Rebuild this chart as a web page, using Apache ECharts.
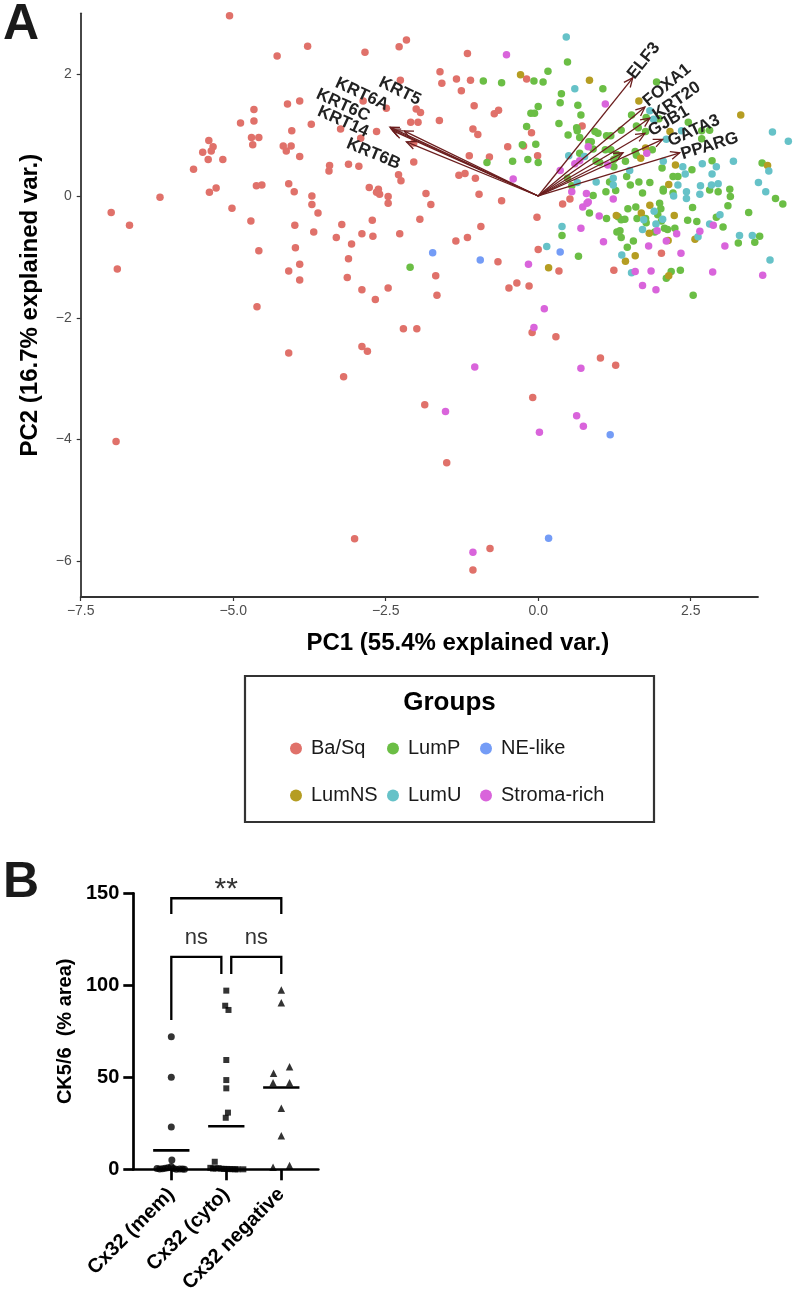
<!DOCTYPE html>
<html>
<head>
<meta charset="utf-8">
<script src="https://cdn.jsdelivr.net/npm/echarts@6/dist/echarts.min.js"></script>
<style>
html, body { margin: 0; padding: 0; background: #fff; }
#chart { width: 795px; height: 1298px; }
</style>
</head>
<body>
<div id="chart"></div>
<script>
// ---- panel A : PCA biplot ----
const groups = ['Ba/Sq', 'LumP', 'NE-like', 'LumNS', 'LumU', 'Stroma-rich'];
const groupColors = ['#E0716A', '#6BBE45', '#749CF6', '#B59D22', '#66C2C8', '#D964DB'];

const baSq = [[-5.06,2.96],[-4.28,2.30],[-4.11,1.51],[-3.91,1.56],[-4.88,1.20],[-4.66,1.42],[-4.66,1.23],[-4.04,1.07],[-4.70,0.96],[-4.58,0.96],
  [-4.68,0.84],[-5.40,0.91],[-5.33,0.81],[-5.36,0.74],[-5.50,0.72],[-5.41,0.60],[-5.17,0.60],[-5.65,0.44],[-4.18,0.82],[-4.05,0.82],
  [-4.13,0.74],[-3.91,0.65],[-4.62,0.17],[-4.53,0.18],[-4.09,0.20],[-4.00,0.07],[-5.39,0.06],[-5.28,0.13],[-6.20,-0.02],
  [-7.00,-0.27],[-6.70,-0.48],[-6.90,-1.20],[-5.02,-0.20],[-4.71,-0.41],[-4.58,-0.90],[-4.61,-1.82],[-3.99,-0.48],[-3.98,-0.85],[-4.09,-1.23],
  [-3.91,-1.12],[-3.91,-1.38],[-4.09,-2.58],[-6.92,-4.03],
  [-3.78,2.46],[-2.84,2.36],[-2.28,2.45],[-2.16,2.56],[-1.16,2.34],[-0.19,1.92],[-1.61,2.04],[-1.58,1.85],[-1.34,1.92],[-1.11,1.90],
  [-1.26,1.73],[-2.26,1.90],[-2.87,1.56],[-2.49,1.44],[-2.00,1.43],[-1.93,1.37],[-1.97,1.21],[-2.09,1.21],[-1.05,1.48],[-0.72,1.35],
  [-0.65,1.41],[-1.62,1.24],[-1.07,1.10],[-0.99,1.01],[-2.65,1.06],[-2.91,0.95],[-3.24,1.10],[-3.72,1.18],[-2.04,0.87],[-2.04,0.56],
  [-1.13,0.66],[-0.80,0.64],[-0.50,0.81],[-0.24,0.82],[-0.11,1.04],[-0.01,0.66],[-3.11,0.52],[-2.94,0.49],[-3.42,0.50],[-3.43,0.41],
  [-2.29,0.35],[-2.25,0.25],[-1.30,0.34],[-1.20,0.37],[-1.03,0.29],[-3.71,0.00],[-2.77,0.14],[-2.62,0.11],[-2.60,0.03],[-2.65,0.06],
  [-2.46,-0.01],[-1.84,0.04],[-0.97,0.03],
  [-3.71,-0.14],[-3.61,-0.28],[-3.68,-0.59],[-3.22,-0.47],[-3.31,-0.68],[-3.06,-0.79],[-3.11,-1.03],[-3.13,-1.34],[-2.72,-0.40],[-2.89,-0.62],
  [-2.71,-0.66],[-2.89,-1.54],[-2.67,-1.70],[-2.46,-1.51],[-2.46,-0.12],[-2.27,-0.62],[-1.94,-0.38],[-1.76,-0.14],[-1.68,-1.31],[-1.66,-1.63],
  [-2.21,-2.18],[-1.99,-2.18],[-2.89,-2.47],[-2.80,-2.55],[-3.19,-2.97],[-0.60,-0.08],[-0.94,-0.50],[-1.35,-0.74],[-1.16,-0.68],[-0.66,-1.08],
  [-0.02,-0.35],[0.00,-0.88],[-0.48,-1.51],[-0.35,-1.43],[-0.15,-1.48],[-0.10,-2.24],
  [-1.86,-3.43],[-1.50,-4.38],[-0.09,-3.31],[-3.01,-5.63],[-0.79,-5.79],[-1.07,-6.14],
  [0.29,-2.31],[1.02,-2.66],[1.27,-2.78],[1.24,-1.22],[0.34,-1.23],[2.02,-0.94],[0.52,-0.05],[0.40,-0.13],[0.72,1.15]];

const lumP = [[-0.07,1.89],[-0.90,1.89],[-0.60,1.86],[-0.19,1.14],[-0.12,1.36],[-0.06,1.36],[0.00,1.47],[-0.26,0.84],[-0.04,0.85],[-0.17,0.60],
  [-0.42,0.57],[-0.84,0.55],[0.00,0.55],[-2.10,-1.17],
  [2.54,-1.63],[3.28,-0.77],[3.55,-0.76],[3.63,-0.66],[3.45,-0.27],[3.89,-0.04],[4.01,-0.13],[2.18,-1.24],[2.10,-1.35],[2.33,-1.22],
  [0.66,-0.99],[1.46,-0.84],[1.56,-0.74],[2.45,-0.40],[2.60,-0.42],[2.92,-0.35],[3.03,-0.51],[3.11,-0.16],[3.15,-0.01],[2.95,0.07],
  [2.53,-0.19],[2.24,-0.53],[2.07,-0.53],[2.12,-0.55],[2.05,0.08],[1.99,-0.12],[2.01,-0.21],[1.96,-0.31],[2.02,-0.41],[1.91,-0.59],
  [1.60,-0.18],[1.47,-0.21],[1.62,-0.37],[1.76,-0.37],[1.77,-0.44],[1.31,-0.34],[1.36,-0.39],[1.42,-0.38],[1.29,-0.59],[1.34,-0.57],
  [1.36,-0.68],[1.12,-0.37],[1.11,0.07],[1.27,0.09],[0.84,-0.28],[0.90,0.01],[1.71,0.05],[0.39,-0.65],
  [0.48,2.20],[0.16,2.05],[0.08,1.87],[1.06,1.76],[0.38,1.68],[0.36,1.53],[0.70,1.33],[0.65,1.49],[0.63,1.12],[0.64,1.07],
  [0.49,1.00],[0.34,1.19],[0.68,0.96],[0.68,0.70],[0.83,0.89],[0.87,0.89],[0.90,0.77],[0.93,1.06],[0.98,1.03],[1.12,0.99],
  [1.19,0.99],[1.36,1.08],[1.53,1.33],[1.61,1.15],[1.64,1.12],[1.77,1.29],[1.94,1.87],[1.98,1.27],[1.76,1.06],[2.46,1.21],
  [2.68,1.07],[2.68,0.94],[2.81,1.08],[1.19,0.76],[1.10,0.76],[1.29,0.68],[1.24,0.60],[1.24,0.48],[0.95,0.57],[1.01,0.55],
  [1.43,0.57],[1.59,0.73],[1.61,0.67],[1.87,0.76],[2.03,0.46],[2.21,0.32],[2.29,0.32],[2.52,0.43],[2.85,0.58],[3.67,0.54],
  [3.14,0.11],[2.81,0.10],[2.21,0.05],[2.05,0.11],[1.83,0.22],[1.65,0.23],[1.51,0.18],[1.45,0.32],[1.17,0.23],[0.48,0.29],[0.55,0.17]];

const neLike = [[-1.73,-0.93],[-0.95,-1.05],[1.18,-3.92],[0.17,-5.62],[0.36,-0.92]];

const lumNS = [[-0.29,1.99],[0.84,1.90],[1.65,1.56],[2.16,1.06],[3.32,1.33],[1.76,0.79],[1.68,0.62],[2.25,0.51],[3.76,0.50],[2.14,0.19],
  [2.14,-1.31],[0.17,-1.18],[1.43,-1.07],[1.59,-0.98],[2.13,-0.73],[2.57,-0.71],[2.23,-0.32],[1.83,-0.15],[1.69,-0.28],[1.82,-0.61],[1.28,-0.32]];

const lumU = [[3.80,-1.05],[3.30,-0.65],[3.51,-0.65],[3.73,0.07],[1.53,-1.26],[0.14,-0.83],[1.37,-0.97],[2.62,-0.67],[2.81,-0.46],[2.98,-0.31],
  [2.65,0.03],[2.43,-0.04],[2.43,0.07],[2.22,0.00],[1.90,-0.25],[2.04,-0.38],[1.93,-0.46],[1.73,-0.39],[1.71,-0.55],[0.39,-0.50],
  [0.46,2.61],[0.60,1.76],[1.83,1.40],[1.89,1.26],[2.10,0.93],[2.35,1.07],[3.84,1.05],[4.10,0.90],[0.50,0.66],[0.76,0.65],
  [2.05,0.57],[2.37,0.48],[2.41,0.36],[2.69,0.53],[2.92,0.48],[2.85,0.36],[3.20,0.57],[3.78,0.41],[3.61,0.22],[2.95,0.20],
  [2.66,0.17],[2.84,0.18],[2.29,0.18],[1.50,0.42],[1.23,0.29],[0.95,0.23],[0.64,0.22],[1.23,0.18]];

const stromaRich = [[-0.52,2.32],[-0.41,0.28],[-0.16,-1.12],[-0.07,-2.16],[-1.04,-2.81],[-1.52,-3.54],[0.02,-3.88],[0.63,-3.61],[0.74,-3.78],[-1.07,-5.85],
  [0.10,-1.85],[0.70,-2.83],[3.68,-1.30],[2.86,-1.25],[3.06,-0.82],[1.71,-1.47],[1.93,-1.54],[1.85,-1.23],[1.59,-1.24],[1.07,-0.75],
  [1.81,-0.82],[2.34,-0.94],[2.10,-0.74],[2.27,-0.62],[2.65,-0.58],[2.87,-0.48],[1.95,-0.57],[1.00,-0.33],[1.23,-0.05],[0.79,0.04],
  [0.82,-0.10],[0.73,-0.18],[0.80,-0.12],[0.55,0.07],[0.70,-0.53],[1.10,1.51],[0.82,0.81],[0.68,0.58],[0.60,0.53],[1.14,0.51],
  [1.78,0.70],[0.36,0.42]];

const groupPoints = [baSq, lumP, neLike, lumNS, lumU, stromaRich];

// variable loadings (arrow tips) and where their names sit
const loadingNames = ['KRT5', 'KRT6A', 'KRT6C', 'KRT14', 'KRT6B', 'ELF3', 'FOXA1', 'KRT20', 'GJB1', 'GATA3', 'PPARG', ''];
const loadingX = [-2.20, -2.43, -2.41, -2.38, -2.16, 1.55, 1.75, 1.83, 1.75, 2.04, 2.32, 1.39];
const loadingY = [1.07, 1.13, 1.10, 1.07, 0.89, 1.94, 1.46, 1.28, 1.03, 0.93, 0.71, 0.71];
const labelX = [-2.27, -2.89, -3.20, -3.20, -2.70, 1.73, 2.11, 2.27, 2.14, 2.55, 2.81, 0];
const labelY = [1.72, 1.67, 1.49, 1.22, 0.69, 2.22, 1.82, 1.56, 1.23, 1.07, 0.82, 0];

const pcTicksX = [-7.5, -5, -2.5, 0, 2.5];
const pcTicksY = [-6, -4, -2, 0, 2];

// ---- panel B : CK5/6 by Cx32 status ----
const bCategories = ['Cx32 (mem)', 'Cx32 (cyto)', 'Cx32 negative'];
const memVals = [72, 50, 23, 5, 1.5, 0.5, 0.3, 0.8, 0.4, 0.2, 0, 0.1, 0.6, 0, 0.2];
const memJitter = [0, 0, 0, 0.01, 0, -0.26, -0.16, -0.06, 0.04, 0.15, 0.24, -0.21, -0.11, 0.09, 0.2];
const cytoVals = [97.1, 88.9, 86.6, 59.4, 48.5, 44.0, 30.8, 28.0, 4.1, 0.8, 0.5, 0.3, 0.2, 0.1, 0, 0, 0.4, 0.6, 0.2, 0.1, 0];
const cytoJitter = [0, -0.02, 0.04, 0, 0, 0, 0.03, -0.01, -0.21, -0.29, -0.19, -0.09, 0.01, 0.11, 0.21, 0.31, -0.24, -0.14, -0.04, 0.06, 0.16];
const negVals = [97.4, 90.5, 55.8, 52.2, 47.1, 47.1, 33.2, 18.3, 2.0, 1.1];
const negJitter = [0, 0, 0.15, -0.14, -0.15, 0.15, 0, 0, 0.15, -0.15];
const bTicks = [0, 50, 100, 150];
const comparisons = [[1, 3, '**'], [1, 2, 'ns'], [2, 3, 'ns']];

const FONT = '"Liberation Sans", Arial, Helvetica, sans-serif';
const ARROW = '#6B1E1E';

const chart = echarts.init(document.getElementById('chart'), null, { renderer: 'canvas' });

const minusFmt = (v, d) => (v < 0 ? '\u2212' : '') + Math.abs(v).toFixed(d);

const scatterA = groups.map((g, i) => ({
  name: g,
  type: 'scatter',
  xAxisIndex: 0, yAxisIndex: 0,
  data: groupPoints[i],
  symbol: 'circle',
  symbolSize: 7.5,
  clip: false,
  itemStyle: { color: groupColors[i], opacity: 1 },
  emphasis: { disabled: true },
  z: 2
}));

const arrowSeries = {
  type: 'custom',
  xAxisIndex: 0, yAxisIndex: 0,
  clip: false,
  z: 5,
  data: loadingX.map((x, i) => [x, loadingY[i]]),
  renderItem: function (params, api) {
    const o = api.coord([0, 0]);
    const t = api.coord([api.value(0), api.value(1)]);
    const ang = Math.atan2(t[1] - o[1], t[0] - o[0]);
    const L = 10, a = 0.42;
    const h1 = [t[0] - L * Math.cos(ang - a), t[1] - L * Math.sin(ang - a)];
    const h2 = [t[0] - L * Math.cos(ang + a), t[1] - L * Math.sin(ang + a)];
    return {
      type: 'group',
      children: [
        { type: 'line', shape: { x1: o[0], y1: o[1], x2: t[0], y2: t[1] }, style: { stroke: ARROW, lineWidth: 1.3 } },
        { type: 'polyline', shape: { points: [h1, t, h2] }, style: { stroke: ARROW, lineWidth: 1.3, fill: null } }
      ]
    };
  }
};

const arrowLabelSeries = {
  type: 'custom',
  xAxisIndex: 0, yAxisIndex: 0,
  clip: false,
  z: 6,
  data: labelX.map((x, i) => [x, labelY[i], loadingX[i], loadingY[i]]),
  renderItem: function (params, api) {
    const name = loadingNames[params.dataIndex];
    if (!name) return null;
    const p = api.coord([api.value(0), api.value(1)]);
    const o = api.coord([0, 0]);
    const t = api.coord([api.value(2), api.value(3)]);
    const rot = Math.atan((o[1] - t[1]) / (t[0] - o[0]));
    return {
      type: 'text',
      x: p[0], y: p[1],
      rotation: rot,
      style: { text: name, fill: '#222', font: 'bold 17px ' + FONT, align: 'center', verticalAlign: 'middle' }
    };
  }
};

// panel B marks
const bSets = [
  { vals: memVals, jit: memJitter, symbol: 'circle', size: 7 },
  { vals: cytoVals, jit: cytoJitter, symbol: 'rect', size: 6 },
  { vals: negVals, jit: negJitter, symbol: 'triangle', size: 7.5 }
];
const scatterB = bSets.map((s, i) => ({
  name: bCategories[i],
  type: 'scatter',
  xAxisIndex: 1, yAxisIndex: 1,
  data: s.vals.map((v, j) => [i + 1 + s.jit[j], v]),
  symbol: s.symbol,
  symbolSize: s.size,
  clip: false,
  itemStyle: { color: '#000' },
  emphasis: { disabled: true },
  z: 3
}));

const meanSeries = {
  type: 'custom',
  xAxisIndex: 1, yAxisIndex: 1,
  clip: false,
  z: 4,
  data: bSets.map((s, i) => [i + 1, s.vals.reduce((a, b) => a + b, 0) / s.vals.length]),
  renderItem: function (params, api) {
    const a = api.coord([api.value(0) - 0.33, api.value(1)]);
    const b = api.coord([api.value(0) + 0.33, api.value(1)]);
    return { type: 'line', shape: { x1: a[0], y1: a[1], x2: b[0], y2: b[1] }, style: { stroke: '#000', lineWidth: 2.6 } };
  }
};

// bracket layout: [top, left leg end, right leg end, label y, inner gap]
const bracketLayout = [[147.3, 138.8, 138.8, 152, 0], [115.5, 81.1, 106.1, 125.5, 0.09], [115.5, 106.1, 106.1, 125.5, 0.09]];
const bracketSeries = {
  type: 'custom',
  xAxisIndex: 1, yAxisIndex: 1,
  clip: false,
  z: 4,
  data: comparisons.map(c => [c[0], c[1]]),
  renderItem: function (params, api) {
    const i = params.dataIndex;
    const lay = bracketLayout[i];
    let x1 = api.value(0), x2 = api.value(1);
    if (i === 1) x2 -= lay[4];
    if (i === 2) x1 += lay[4];
    const pts = [api.coord([x1, lay[1]]), api.coord([x1, lay[0]]), api.coord([x2, lay[0]]), api.coord([x2, lay[2]])];
    const lp = api.coord([(x1 + x2) / 2, lay[3]]);
    const label = comparisons[i][2];
    return {
      type: 'group',
      children: [
        { type: 'polyline', shape: { points: pts }, style: { stroke: '#000', lineWidth: 2.3, fill: null } },
        { type: 'text', x: lp[0], y: lp[1], style: { text: label, fill: '#333',
          font: (label === '**' ? '30px ' : '22px ') + FONT, align: 'center', verticalAlign: 'middle' } }
      ]
    };
  }
};

// legend drawn as graphic, two rows of three
const legendCols = [296, 393, 486];
const legendRows = [748.5, 795.5];
const legendItems = [];
groups.forEach((g, i) => {
  const cx = legendCols[i % 3], cy = legendRows[Math.floor(i / 3)];
  legendItems.push({ type: 'circle', shape: { cx: cx, cy: cy, r: 6 }, style: { fill: groupColors[i] } });
  legendItems.push({ type: 'text', x: cx + 15, y: cy, style: { text: g, fill: '#1A1A1A', font: '20px ' + FONT, verticalAlign: 'middle' } });
});

const option = {
  animation: false,
  backgroundColor: '#fff',
  grid: [
    { left: 80.7, top: 13.3, width: 677.3, height: 583.7 },
    { left: 133.3, top: 893.3, width: 185, height: 276 }
  ],
  xAxis: [
    {
      type: 'value', gridIndex: 0, min: -7.5, max: 3.603,
      axisLine: { show: true, onZero: false, lineStyle: { color: '#333', width: 1.8 } },
      axisTick: { show: true, length: 4, customValues: pcTicksX, lineStyle: { color: '#333', width: 1.2 } },
      axisLabel: { customValues: pcTicksX, formatter: v => minusFmt(v, 1), color: '#4D4D4D', fontSize: 14, margin: 7, fontFamily: FONT },
      splitLine: { show: false },
      name: 'PC1 (55.4% explained var.)', nameLocation: 'middle', nameGap: 34,
      nameTextStyle: { fontSize: 24, fontWeight: 'bold', color: '#000', fontFamily: FONT, padding: [0, 0, 0, 77] }
    },
    {
      type: 'value', gridIndex: 1, min: 0.309, max: 3.673,
      axisLine: { show: true, onZero: false, lineStyle: { color: '#000', width: 2.7 } },
      axisTick: { show: true, length: 11, customValues: [1, 2, 3], lineStyle: { color: '#000', width: 2.7 } },
      axisLabel: { customValues: [1, 2, 3], formatter: v => bCategories[Math.round(v) - 1], rotate: 45,
        color: '#000', fontSize: 20, fontWeight: 'bold', margin: 22, fontFamily: FONT },
      splitLine: { show: false }
    }
  ],
  yAxis: [
    {
      type: 'value', gridIndex: 0, min: -6.585, max: 3.0,
      axisLine: { show: true, onZero: false, lineStyle: { color: '#333', width: 1.8 } },
      axisTick: { show: true, length: 4, customValues: pcTicksY, lineStyle: { color: '#333', width: 1.2 } },
      axisLabel: { customValues: pcTicksY, formatter: v => minusFmt(v, 0), color: '#4D4D4D', fontSize: 14, margin: 9, fontFamily: FONT },
      splitLine: { show: false },
      name: 'PC2 (16.7% explained var.)', nameLocation: 'middle', nameGap: 38, nameRotate: 90,
      nameTextStyle: { fontSize: 24, fontWeight: 'bold', color: '#000', fontFamily: FONT }
    },
    {
      type: 'value', gridIndex: 1, min: 0, max: 150, interval: 50,
      axisLine: { show: true, onZero: false, lineStyle: { color: '#000', width: 2.7 } },
      axisTick: { show: true, length: 10, lineStyle: { color: '#000', width: 2.7 } },
      axisLabel: { color: '#000', fontSize: 20, fontWeight: 'bold', margin: 14, fontFamily: FONT },
      splitLine: { show: false },
      name: 'CK5/6  (% area)', nameLocation: 'middle', nameGap: 58, nameRotate: 90,
      nameTextStyle: { fontSize: 20, fontWeight: 'bold', color: '#000', fontFamily: FONT }
    }
  ],
  graphic: [
    { type: 'text', left: 3, top: 0, style: { text: 'A', font: 'bold 50px ' + FONT, fill: '#1A1A1A' } },
    { type: 'text', left: 3, top: 858, style: { text: 'B', font: 'bold 50px ' + FONT, fill: '#1A1A1A' } },
    { type: 'rect', shape: { x: 245, y: 676, width: 409, height: 146 }, style: { fill: null, stroke: '#333', lineWidth: 2.2 } },
    { type: 'text', x: 449.5, y: 703, style: { text: 'Groups', font: 'bold 26px ' + FONT, fill: '#000', align: 'center', verticalAlign: 'middle' } },
    ...legendItems
  ],
  series: [...scatterA, arrowSeries, arrowLabelSeries, ...scatterB, meanSeries, bracketSeries]
};

chart.setOption(option);
</script>
</body>
</html>
